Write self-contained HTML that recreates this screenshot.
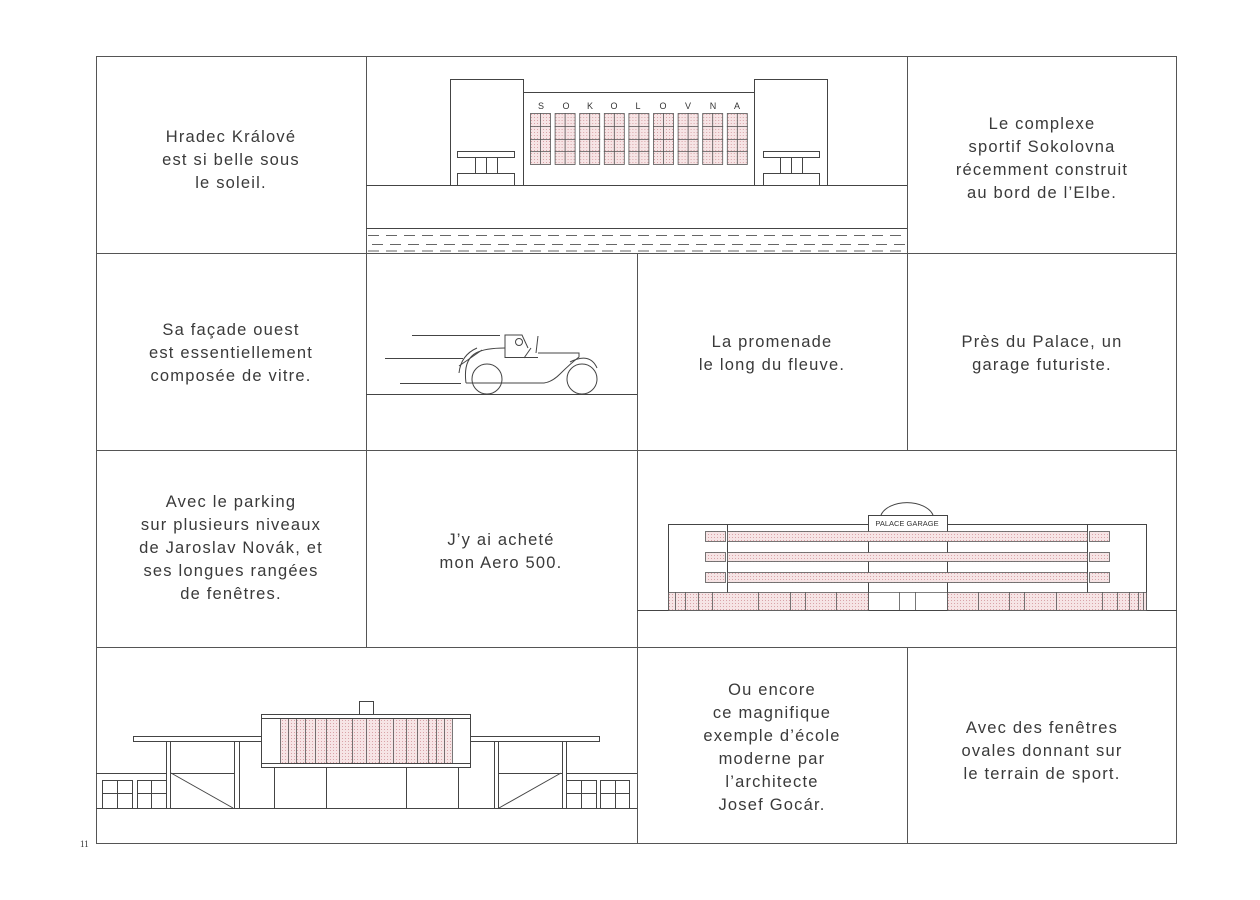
<!DOCTYPE html>
<html><head><meta charset="utf-8"><style>
html,body{margin:0;padding:0;background:#fff;}
svg{display:block;}
text.t{font-family:"Liberation Sans",sans-serif;font-size:16.5px;fill:#3a3a3a;letter-spacing:1.2px;text-anchor:middle;}
</style></head><body>
<svg width="1260" height="900" viewBox="0 0 1260 900" xmlns="http://www.w3.org/2000/svg">
<defs>
<pattern id="pk" width="3" height="3" patternUnits="userSpaceOnUse"><rect width="3" height="3" fill="#f6e4e5"/><rect width="1" height="1" fill="#d9a3a8"/></pattern>
</defs>
<g fill="none" stroke="#555" stroke-width="1">
<!-- grid -->
<rect x="96.5" y="56.5" width="1080" height="787"/>
<line x1="96" y1="253.5" x2="1177" y2="253.5"/>
<line x1="96" y1="450.5" x2="1177" y2="450.5"/>
<line x1="96" y1="647.5" x2="1177" y2="647.5"/>
<line x1="366.5" y1="56" x2="366.5" y2="647"/>
<line x1="907.5" y1="56" x2="907.5" y2="450"/>
<line x1="637.5" y1="253" x2="637.5" y2="843"/>
<line x1="907.5" y1="647" x2="907.5" y2="843"/>
</g>

<!-- Sokolovna -->
<g stroke="#444" stroke-width="1" fill="none">
<rect x="450.5" y="79.5" width="73" height="106"/>
<rect x="754.5" y="79.5" width="73" height="106"/>
<polyline points="524,92.5 754,92.5"/>
<line x1="366" y1="185.5" x2="907" y2="185.5"/>
<line x1="366" y1="228.5" x2="907" y2="228.5"/>
<rect x="457.5" y="151.5" width="57" height="6"/>
<line x1="475.5" y1="157" x2="475.5" y2="173"/><line x1="486.5" y1="157" x2="486.5" y2="173"/><line x1="497.5" y1="157" x2="497.5" y2="173"/>
<polyline points="457.5,185 457.5,173.5 514.5,173.5 514.5,185"/>
<rect x="763.5" y="151.5" width="56" height="6"/>
<line x1="780.5" y1="157" x2="780.5" y2="173"/><line x1="791.5" y1="157" x2="791.5" y2="173"/><line x1="802.5" y1="157" x2="802.5" y2="173"/>
<polyline points="763.5,185 763.5,173.5 819.5,173.5 819.5,185"/>
<g stroke-dasharray="11,7" stroke="#666">
<line x1="368" y1="235.5" x2="907" y2="235.5"/>
<line x1="372" y1="244.5" x2="907" y2="244.5"/>
<line x1="368" y1="251" x2="907" y2="251"/>
</g>
</g>
<g stroke="#555" stroke-width="0.8">
<g id="w"><rect x="530.5" y="113.5" width="20" height="51" fill="url(#pk)"/><line x1="540.5" y1="113" x2="540.5" y2="164"/><line x1="530" y1="126.5" x2="551" y2="126.5"/><line x1="530" y1="139.5" x2="551" y2="139.5"/><line x1="530" y1="151.5" x2="551" y2="151.5"/></g>
<use href="#w" x="24.6"/><use href="#w" x="49.2"/><use href="#w" x="73.8"/><use href="#w" x="98.4"/><use href="#w" x="123"/><use href="#w" x="147.6"/><use href="#w" x="172.2"/><use href="#w" x="196.8"/>
</g>
<g font-family="Liberation Sans,sans-serif" font-size="9" fill="#333" text-anchor="middle">
<text x="541" y="109">S</text><text x="566" y="109">O</text><text x="590" y="109">K</text><text x="614" y="109">O</text><text x="638" y="109">L</text><text x="663" y="109">O</text><text x="688" y="109">V</text><text x="713" y="109">N</text><text x="737" y="109">A</text>
</g>

<!-- Car -->
<g stroke="#444" stroke-width="1" fill="none">
<line x1="366" y1="394.5" x2="637" y2="394.5"/>
<line x1="412" y1="335.5" x2="500" y2="335.5"/>
<line x1="385" y1="358.5" x2="463" y2="358.5"/>
<line x1="400" y1="383.5" x2="461" y2="383.5"/>
<circle cx="487" cy="379" r="15"/>
<circle cx="582" cy="379" r="15"/>
<path d="M466 383 L544 383 Q552 382 560 374 Q570 364 579 357 L579 353 L538 353"/>
<path d="M466 383 Q463 360 476 353 Q485 348 505 348"/>
<path d="M459 373 Q461 355 477 348"/>
<path d="M570 362 Q590 352 597 368"/>
<polyline points="505,358 505,335 522,335 528,348"/>
<line x1="505" y1="357.5" x2="538" y2="357.5"/>
<circle cx="519" cy="342" r="3.5"/>
<line x1="524" y1="358" x2="531" y2="348"/>
<line x1="536" y1="353" x2="538" y2="336"/>
<line x1="459" y1="366" x2="482" y2="350"/>
</g>

<!-- Garage -->
<g stroke="#444" stroke-width="1" fill="none">
<line x1="637" y1="610.5" x2="1177" y2="610.5"/>
<rect x="668.5" y="524.5" width="478" height="86"/>
<line x1="727.5" y1="524" x2="727.5" y2="610"/>
<line x1="1087.5" y1="524" x2="1087.5" y2="610"/>
<rect x="868.5" y="515.5" width="79" height="95" fill="#fff"/>
<path d="M881 515 A27 17 0 0 1 933 515"/>
</g>
<g stroke="#555" stroke-width="0.8" fill="url(#pk)">
<rect x="705.5" y="531.5" width="20" height="10"/><rect x="727.5" y="531.5" width="360" height="10"/><rect x="1089.5" y="531.5" width="20" height="10"/>
<rect x="705.5" y="552.5" width="20" height="9"/><rect x="727.5" y="552.5" width="360" height="9"/><rect x="1089.5" y="552.5" width="20" height="9"/>
<rect x="705.5" y="572.5" width="20" height="10"/><rect x="727.5" y="572.5" width="360" height="10"/><rect x="1089.5" y="572.5" width="20" height="10"/>
<rect x="668.5" y="592.5" width="200" height="18"/><rect x="947.5" y="592.5" width="199" height="18"/>
</g>
<g stroke="#555" stroke-width="0.8">
<line x1="675.5" y1="592" x2="675.5" y2="610"/><line x1="685.5" y1="592" x2="685.5" y2="610"/><line x1="698.5" y1="592" x2="698.5" y2="610"/><line x1="712.5" y1="592" x2="712.5" y2="610"/><line x1="758.5" y1="592" x2="758.5" y2="610"/><line x1="790.5" y1="592" x2="790.5" y2="610"/><line x1="805.5" y1="592" x2="805.5" y2="610"/><line x1="836.5" y1="592" x2="836.5" y2="610"/>
<line x1="899.5" y1="592" x2="899.5" y2="610"/><line x1="915.5" y1="592" x2="915.5" y2="610"/><line x1="868" y1="592.5" x2="947" y2="592.5"/>
<line x1="978.5" y1="592" x2="978.5" y2="610"/><line x1="1009.5" y1="592" x2="1009.5" y2="610"/><line x1="1024.5" y1="592" x2="1024.5" y2="610"/><line x1="1056.5" y1="592" x2="1056.5" y2="610"/><line x1="1102.5" y1="592" x2="1102.5" y2="610"/><line x1="1117.5" y1="592" x2="1117.5" y2="610"/><line x1="1129.5" y1="592" x2="1129.5" y2="610"/><line x1="1138.5" y1="592" x2="1138.5" y2="610"/><line x1="1143.5" y1="592" x2="1143.5" y2="610"/>
</g>
<text x="907" y="526" font-family="Liberation Sans,sans-serif" font-size="7.5" fill="#333" text-anchor="middle">PALACE GARAGE</text>

<!-- School -->
<g stroke="#444" stroke-width="1" fill="none">
<line x1="96" y1="808.5" x2="637" y2="808.5"/>
<rect x="133.5" y="736.5" width="128" height="5"/>
<rect x="470.5" y="736.5" width="129" height="5"/>
<rect x="359.5" y="701.5" width="14" height="13"/>
<rect x="261.5" y="714.5" width="209" height="53" fill="#fff"/>
<line x1="261" y1="718.5" x2="471" y2="718.5"/>
<line x1="261" y1="763.5" x2="471" y2="763.5"/>
<line x1="96" y1="773.5" x2="166" y2="773.5"/>
<line x1="170" y1="773.5" x2="234" y2="773.5"/>
<line x1="498" y1="773.5" x2="562" y2="773.5"/>
<line x1="566" y1="773.5" x2="637" y2="773.5"/>
<line x1="166.5" y1="741" x2="166.5" y2="808"/><line x1="170.5" y1="741" x2="170.5" y2="808"/>
<line x1="234.5" y1="741" x2="234.5" y2="808"/><line x1="239.5" y1="741" x2="239.5" y2="808"/>
<line x1="494.5" y1="741" x2="494.5" y2="808"/><line x1="498.5" y1="741" x2="498.5" y2="808"/>
<line x1="562.5" y1="741" x2="562.5" y2="808"/><line x1="566.5" y1="741" x2="566.5" y2="808"/>
<line x1="171" y1="773" x2="233" y2="808"/>
<line x1="561" y1="773" x2="499" y2="808"/>
<rect x="102.5" y="780.5" width="30" height="28"/><line x1="117.5" y1="780" x2="117.5" y2="808"/><line x1="102" y1="793.5" x2="132" y2="793.5"/>
<rect x="137.5" y="780.5" width="29" height="28"/><line x1="151.5" y1="780" x2="151.5" y2="808"/><line x1="137" y1="793.5" x2="166" y2="793.5"/>
<rect x="566.5" y="780.5" width="30" height="28"/><line x1="581.5" y1="780" x2="581.5" y2="808"/><line x1="566" y1="793.5" x2="596" y2="793.5"/>
<rect x="600.5" y="780.5" width="29" height="28"/><line x1="615.5" y1="780" x2="615.5" y2="808"/><line x1="600" y1="793.5" x2="629" y2="793.5"/>
<line x1="274.5" y1="767" x2="274.5" y2="808"/><line x1="326.5" y1="767" x2="326.5" y2="808"/><line x1="406.5" y1="767" x2="406.5" y2="808"/><line x1="458.5" y1="767" x2="458.5" y2="808"/>
</g>
<rect x="280" y="719" width="172" height="44" fill="url(#pk)"/>
<g stroke="#555" stroke-width="0.8">
<line x1="280.5" y1="719" x2="280.5" y2="763"/><line x1="288.5" y1="719" x2="288.5" y2="763"/><line x1="296.5" y1="719" x2="296.5" y2="763"/><line x1="305.5" y1="719" x2="305.5" y2="763"/><line x1="315.5" y1="719" x2="315.5" y2="763"/><line x1="326.5" y1="719" x2="326.5" y2="763"/><line x1="339.5" y1="719" x2="339.5" y2="763"/><line x1="352.5" y1="719" x2="352.5" y2="763"/><line x1="366.5" y1="719" x2="366.5" y2="763"/><line x1="379.5" y1="719" x2="379.5" y2="763"/><line x1="393.5" y1="719" x2="393.5" y2="763"/><line x1="406.5" y1="719" x2="406.5" y2="763"/><line x1="417.5" y1="719" x2="417.5" y2="763"/><line x1="428.5" y1="719" x2="428.5" y2="763"/><line x1="436.5" y1="719" x2="436.5" y2="763"/><line x1="444.5" y1="719" x2="444.5" y2="763"/><line x1="452.5" y1="719" x2="452.5" y2="763"/>
</g>

<!-- Texts -->
<text class="t" x="231" y="142">Hradec Králové</text>
<text class="t" x="231" y="165">est si belle sous</text>
<text class="t" x="231" y="188">le soleil.</text>

<text class="t" x="1042" y="129">Le complexe</text>
<text class="t" x="1042" y="152">sportif Sokolovna</text>
<text class="t" x="1042" y="175">récemment construit</text>
<text class="t" x="1042" y="198">au bord de l’Elbe.</text>

<text class="t" x="231" y="335">Sa façade ouest</text>
<text class="t" x="231" y="358">est essentiellement</text>
<text class="t" x="231" y="381">composée de vitre.</text>

<text class="t" x="772" y="347">La promenade</text>
<text class="t" x="772" y="370">le long du fleuve.</text>

<text class="t" x="1042" y="347">Près du Palace, un</text>
<text class="t" x="1042" y="370">garage futuriste.</text>

<text class="t" x="231" y="507">Avec le parking</text>
<text class="t" x="231" y="530">sur plusieurs niveaux</text>
<text class="t" x="231" y="553">de Jaroslav Novák, et</text>
<text class="t" x="231" y="576">ses longues rangées</text>
<text class="t" x="231" y="599">de fenêtres.</text>

<text class="t" x="501" y="545">J’y ai acheté</text>
<text class="t" x="501" y="568">mon Aero 500.</text>

<text class="t" x="772" y="695">Ou encore</text>
<text class="t" x="772" y="718">ce magnifique</text>
<text class="t" x="772" y="741">exemple d’école</text>
<text class="t" x="772" y="764">moderne par</text>
<text class="t" x="772" y="787">l’architecte</text>
<text class="t" x="772" y="810">Josef Gocár.</text>

<text class="t" x="1042" y="733">Avec des fenêtres</text>
<text class="t" x="1042" y="756">ovales donnant sur</text>
<text class="t" x="1042" y="779">le terrain de sport.</text>

<text x="80" y="847" font-family="Liberation Serif,serif" font-size="9" fill="#333">11</text>
</svg>
</body></html>
